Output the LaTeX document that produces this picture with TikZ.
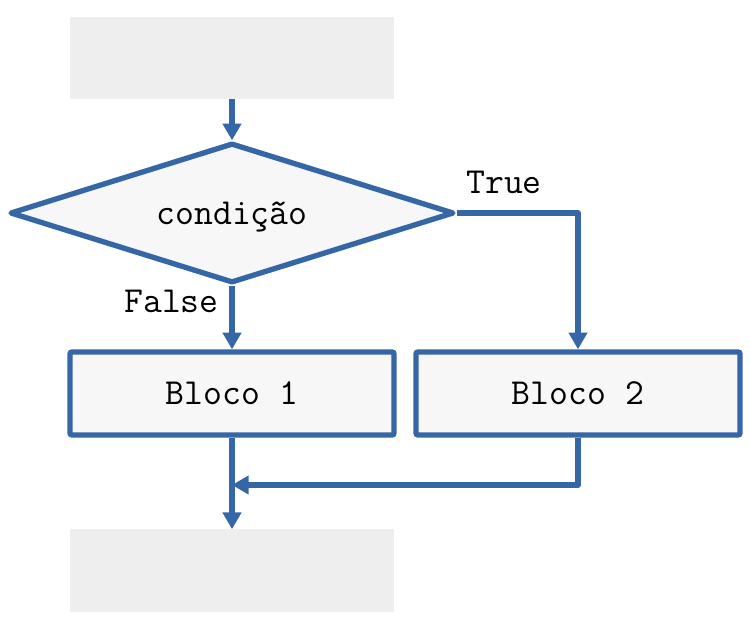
\documentclass[tikz,border=0pt]{standalone}
\usetikzlibrary{shapes.geometric,arrows.meta}
\definecolor{flowblue}{HTML}{3566A6}
\definecolor{greybox}{HTML}{EEEEEE}
\definecolor{lightfill}{HTML}{F7F7F7}
\begin{document}
\begin{tikzpicture}[x=0.75pt,y=-0.75pt,
  txt/.style={font=\fontsize{27.5}{33}\selectfont\ttfamily},
  placeholder/.style={fill=greybox,draw=none,inner sep=0pt,outer sep=0pt,minimum width=243pt,minimum height=62pt},
  blockbox/.style={txt,draw=flowblue,fill=lightfill,line width=4pt,rounded corners=1.5pt,minimum width=243pt,minimum height=62.25pt,inner sep=0pt},
  decision/.style={txt,diamond,aspect=3.2,draw=flowblue,fill=lightfill,line width=4pt,line join=round,minimum width=333pt,minimum height=105pt,inner sep=0pt,text depth=0pt},
  arr/.style={draw=flowblue,line width=4pt,line join=round,-{Triangle[length=12.5pt,width=13.5pt]}}
]
\useasboundingbox (0,0) rectangle (750,630);
\node[placeholder] (top) at (232,58) {};
\node[decision] (cond) at (232,213) {condição};
\node[blockbox] (b1) at (232,393.5) {Bloco 1};
\node[blockbox] (b2) at (578,393.5) {Bloco 2};
\node[placeholder] (bot) at (232,570.5) {};
\node[txt] (tl) at (504,182.5) {True};
\node[txt] (fl) at (171.5,301) {False};
\coordinate (m) at (232,485);
\draw[arr] (top.south) -- (cond.north);
\draw[arr] (cond.south) -- (b1.north);
\draw[arr] (cond.east) -| (b2.north);
\draw[arr] (b1.south) -- (bot.north);
\draw[arr] (b2.south) |- (m);
\end{tikzpicture}
\end{document}
